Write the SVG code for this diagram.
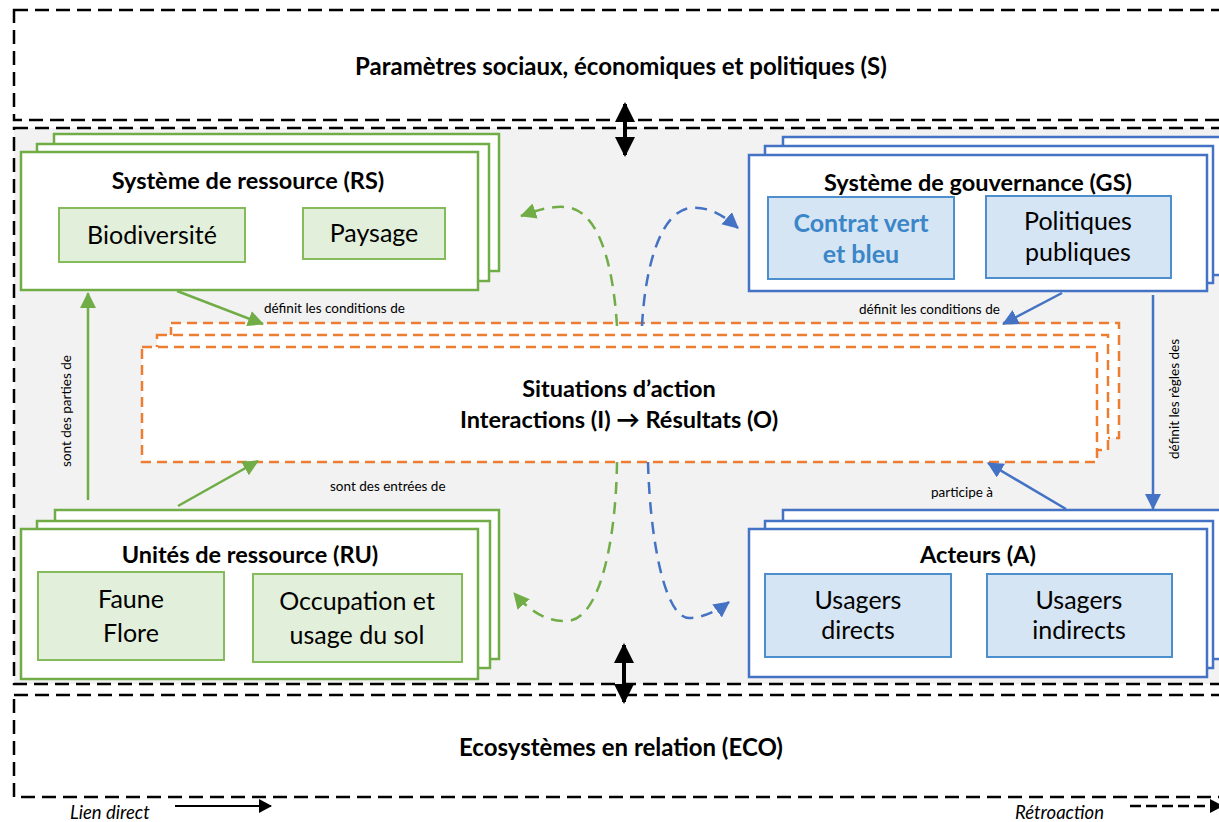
<svg xmlns="http://www.w3.org/2000/svg" width="1219" height="822" viewBox="0 0 1219 822">
<defs>
<style>
.dash{fill:none;stroke:#000;stroke-width:2.5;stroke-dasharray:14 7}
.gbox{fill:#fff;stroke:#70ad47;stroke-width:2.5}
.bbox{fill:#fff;stroke:#4472c4;stroke-width:2.5}
.gsub{fill:#e2efda;stroke:#86bb5c;stroke-width:2}
.bsub{fill:#d6e5f3;stroke:#4d8fcc;stroke-width:2}
.obox{fill:#fff;stroke:#ed7d31;stroke-width:2.5;stroke-dasharray:10 6}
text{font-family:Lato,"Liberation Sans",sans-serif;fill:#000}
.big{font-size:24px;font-weight:bold;text-anchor:middle}
.title{font-size:23.5px;font-weight:bold;text-anchor:middle}
.sub{font-size:25px;text-anchor:middle}
.lbl{font-size:13.5px}
.leg{font-size:18.5px;font-style:italic}
.gl{fill:none;stroke:#70ad47;stroke-width:2.5}
.bl{fill:none;stroke:#4472c4;stroke-width:2.5}
.gd{fill:none;stroke:#70ad47;stroke-width:2.5;stroke-dasharray:12 8}
.bd{fill:none;stroke:#4472c4;stroke-width:2.5;stroke-dasharray:12 8}
</style>
<marker id="ag" markerUnits="userSpaceOnUse" markerWidth="18" markerHeight="18" refX="15" refY="8" orient="auto"><path d="M0,0 L16,8 L0,16 z" fill="#70ad47"/></marker>
<marker id="ab" markerUnits="userSpaceOnUse" markerWidth="18" markerHeight="18" refX="15" refY="8" orient="auto"><path d="M0,0 L16,8 L0,16 z" fill="#4472c4"/></marker>
<marker id="ak" markerUnits="userSpaceOnUse" markerWidth="22" markerHeight="22" refX="18" refY="10" orient="auto-start-reverse"><path d="M0,0 L20,10 L0,20 z" fill="#000"/></marker>
<marker id="akl" markerUnits="userSpaceOnUse" markerWidth="16" markerHeight="16" refX="12" refY="7" orient="auto"><path d="M0,0 L13,7 L0,14 z" fill="#000"/></marker>
</defs>

<g id="social">
<rect class="dash" x="14" y="10" width="1230" height="110"/>
<text class="big" x="621" y="75">Paramètres sociaux, économiques et politiques (S)</text>
</g>

<g id="ses">
<rect class="dash" x="14" y="128" width="1230" height="556" style="fill:#f2f2f2"/>
</g>

<g id="eco">
<rect class="dash" x="14" y="695" width="1230" height="102"/>
<text class="big" x="621" y="756">Ecosystèmes en relation (ECO)</text>
</g>

<g id="action">
<rect class="obox" x="171" y="323" width="948" height="115"/>
<rect class="obox" x="157" y="335" width="951" height="115"/>
<rect class="obox" x="142" y="347" width="955" height="115"/>
<text class="title" x="619" y="397">Situations d’action</text>
<text class="title" x="619" y="428">Interactions (I) → Résultats (O)</text>
</g>

<g id="rs">
<rect class="gbox" x="54" y="134" width="445" height="137"/>
<rect class="gbox" x="37" y="144" width="452" height="137"/>
<rect class="gbox" x="21" y="152" width="457" height="138"/>
<text class="title" x="248" y="189">Système de ressource (RS)</text>
<rect class="gsub" x="59" y="208" width="186" height="54"/>
<text class="sub" x="152" y="244">Biodiversité</text>
<rect class="gsub" x="303" y="208" width="142" height="51"/>
<text class="sub" x="374" y="242">Paysage</text>
</g>

<g id="gs">
<rect class="bbox" x="783" y="137" width="460" height="138"/>
<rect class="bbox" x="765" y="146" width="448" height="137"/>
<rect class="bbox" x="749" y="155" width="458" height="136"/>
<text class="title" x="978" y="191">Système de gouvernance (GS)</text>
<rect class="bsub" x="768" y="197" width="186" height="82"/>
<text class="sub" x="861" y="232" style="font-weight:bold;fill:#3a86c8">Contrat vert</text>
<text class="sub" x="861" y="263" style="font-weight:bold;fill:#3a86c8">et bleu</text>
<rect class="bsub" x="986" y="196" width="185" height="82"/>
<text class="sub" x="1078" y="230">Politiques</text>
<text class="sub" x="1078" y="261">publiques</text>
</g>

<g id="ru">
<rect class="gbox" x="55" y="510" width="444" height="149"/>
<rect class="gbox" x="37" y="521" width="453" height="147"/>
<rect class="gbox" x="21" y="529" width="457" height="150"/>
<text class="title" x="250" y="563">Unités de ressource (RU)</text>
<rect class="gsub" x="38" y="572" width="186" height="88"/>
<text class="sub" x="131" y="608">Faune</text>
<text class="sub" x="131" y="642">Flore</text>
<rect class="gsub" x="253" y="574" width="209" height="88"/>
<text class="sub" x="357" y="610">Occupation et</text>
<text class="sub" x="357" y="644">usage du sol</text>
</g>

<g id="actors">
<rect class="bbox" x="783" y="510" width="460" height="149"/>
<rect class="bbox" x="765" y="521" width="448" height="147"/>
<rect class="bbox" x="749" y="529" width="458" height="148"/>
<text class="title" x="978" y="563">Acteurs (A)</text>
<rect class="bsub" x="765" y="574" width="186" height="83"/>
<text class="sub" x="858" y="609">Usagers</text>
<text class="sub" x="858" y="639">directs</text>
<rect class="bsub" x="987" y="574" width="185" height="83"/>
<text class="sub" x="1079" y="609">Usagers</text>
<text class="sub" x="1079" y="639">indirects</text>
</g>

<g id="connectors">
<line class="gl" x1="177" y1="291" x2="263" y2="324" marker-end="url(#ag)"/>
<line class="bl" x1="1062" y1="293" x2="1003" y2="324" marker-end="url(#ab)"/>
<line class="gl" x1="88" y1="500" x2="88" y2="293" marker-end="url(#ag)"/>
<line class="gl" x1="178" y1="506" x2="258" y2="461" marker-end="url(#ag)"/>
<line class="bl" x1="1066" y1="509" x2="988" y2="463" marker-end="url(#ab)"/>
<line class="bl" x1="1153" y1="295" x2="1153" y2="509" marker-end="url(#ab)"/>
<path class="gd" d="M617,326 C613,262 598,210 566,207 C550,206 538,210 521,216" marker-end="url(#ag)"/>
<path class="bd" d="M642,326 C645,268 660,212 690,208 C707,206 722,214 738,228" marker-end="url(#ab)"/>
<path class="gd" d="M617,462 C616,540 600,620 567,621 C548,622 530,612 514,593" marker-end="url(#ag)"/>
<path class="bd" d="M648,462 C650,540 665,620 690,618 C705,617 717,611 729,602" marker-end="url(#ab)"/>
<line x1="625" y1="104" x2="625" y2="155" stroke="#000" stroke-width="4" marker-start="url(#ak)" marker-end="url(#ak)"/>
<line x1="624" y1="645" x2="624" y2="702" stroke="#000" stroke-width="4" marker-start="url(#ak)" marker-end="url(#ak)"/>
<text class="lbl" x="264" y="313">définit les conditions de</text>
<text class="lbl" x="859" y="314">définit les conditions de</text>
<text class="lbl" x="330" y="491">sont des entrées de</text>
<text class="lbl" x="931" y="497">participe à</text>
<text class="lbl" transform="translate(71,411) rotate(-90)" text-anchor="middle">sont des parties de</text>
<text class="lbl" transform="translate(1179,399) rotate(-90)" text-anchor="middle">définit les règles des</text>
</g>

<g id="legend">
<text class="leg" x="70" y="819">Lien direct</text>
<line x1="175" y1="806" x2="271" y2="806" stroke="#000" stroke-width="2" marker-end="url(#akl)"/>
<text class="leg" x="1015" y="819">Rétroaction</text>
<line x1="1130" y1="806" x2="1222" y2="806" stroke="#000" stroke-width="2.5" stroke-dasharray="11 5" marker-end="url(#akl)"/>
</g>
</svg>
